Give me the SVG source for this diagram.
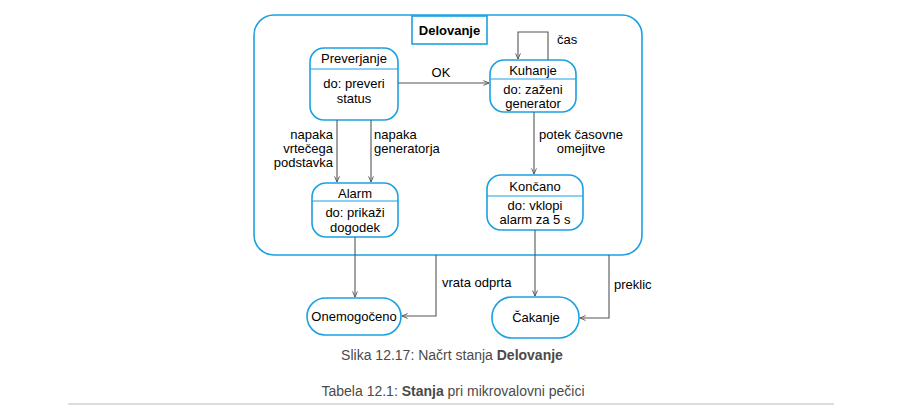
<svg xmlns="http://www.w3.org/2000/svg" width="900" height="405" viewBox="0 0 900 405">
<defs>
<marker id="arr" viewBox="0 0 10 10" refX="9" refY="5" markerWidth="7" markerHeight="7" orient="auto" markerUnits="userSpaceOnUse">
<path d="M1,1.5 L9,5 L1,8.5" fill="none" stroke="#555" stroke-width="1.3"/>
</marker>
<style>
.st{fill:#fff;stroke:#1ba1e2;stroke-width:1.6}
.sep{stroke:#1ba1e2;stroke-width:1}
.t{font-family:"Liberation Sans",Arial,sans-serif;font-size:13px;fill:#000}
.m{text-anchor:middle}
.e{text-anchor:end}
.c{fill:none;stroke:#555;stroke-width:1.1}
.cap{font-family:"Liberation Sans",Arial,sans-serif;font-size:14px;fill:#4a4a4a;text-anchor:middle}
</style>
</defs>
<rect width="900" height="405" fill="#fff"/>
<g id="delovanje">
<rect class="st" x="254" y="15" width="388" height="240" rx="20"/>
<rect class="st" x="412" y="16" width="75" height="28" rx="0"/>
<text class="t m" x="449.5" y="35" font-weight="bold">Delovanje</text>
</g>
<g id="preverjanje">
<rect class="st" x="310" y="48" width="88" height="72" rx="14"/>
<line class="sep" x1="310" y1="69" x2="398" y2="69"/>
<text class="t m" x="354" y="63">Preverjanje</text>
<text class="t m" x="354" y="88">do: preveri</text>
<text class="t m" x="354" y="103">status</text>
</g>
<g id="kuhanje">
<rect class="st" x="490" y="60" width="86" height="52" rx="14"/>
<line class="sep" x1="490" y1="79" x2="576" y2="79"/>
<text class="t m" x="533" y="75">Kuhanje</text>
<text class="t m" x="533" y="94">do: zaženi</text>
<text class="t m" x="533" y="108">generator</text>
</g>
<g id="alarm">
<rect class="st" x="312" y="183" width="86" height="54" rx="14"/>
<line class="sep" x1="312" y1="201" x2="398" y2="201"/>
<text class="t m" x="355" y="198">Alarm</text>
<text class="t m" x="355" y="217">do: prikaži</text>
<text class="t m" x="355" y="232">dogodek</text>
</g>
<g id="koncano">
<rect class="st" x="487" y="175" width="96" height="55" rx="14"/>
<line class="sep" x1="487" y1="196" x2="583" y2="196"/>
<text class="t m" x="535" y="191">Končano</text>
<text class="t m" x="535" y="210">do: vklopi</text>
<text class="t m" x="535" y="224">alarm za 5 s</text>
</g>
<g id="onemogoceno">
<rect class="st" x="307" y="298" width="94" height="37" rx="18.5"/>
<text class="t m" x="354" y="321">Onemogočeno</text>
</g>
<g id="cakanje">
<rect class="st" x="492" y="297" width="87" height="41" rx="20"/>
<text class="t m" x="536" y="322">Čakanje</text>
</g>
<g id="connectors">
<path class="c" d="M398,83 H489" marker-end="url(#arr)"/>
<path class="c" d="M548,60 V32 H518 V59" marker-end="url(#arr)"/>
<path class="c" d="M337,120 V182" marker-end="url(#arr)"/>
<path class="c" d="M371,120 V182" marker-end="url(#arr)"/>
<path class="c" d="M534,112 V174" marker-end="url(#arr)"/>
<path class="c" d="M355,237 V297" marker-end="url(#arr)"/>
<path class="c" d="M436,255 V316 H402" marker-end="url(#arr)"/>
<path class="c" d="M535,230 V296" marker-end="url(#arr)"/>
<path class="c" d="M609,255 V318 H580" marker-end="url(#arr)"/>
<text class="t m" x="441" y="77">OK</text>
<text class="t" x="557" y="44">čas</text>
<text class="t e" x="333" y="139">napaka</text>
<text class="t e" x="333" y="153">vrtečega</text>
<text class="t e" x="333" y="167">podstavka</text>
<text class="t" x="374" y="139">napaka</text>
<text class="t" x="374" y="153">generatorja</text>
<text class="t m" x="581" y="139">potek časovne</text>
<text class="t m" x="581" y="153">omejitve</text>
<text class="t" x="442" y="287">vrata odprta</text>
<text class="t" x="614" y="289">preklic</text>
</g>
<text class="cap" x="452" y="360">Slika 12.17: Načrt stanja <tspan font-weight="bold">Delovanje</tspan></text>
<text class="cap" x="453" y="396">Tabela 12.1: <tspan font-weight="bold">Stanja</tspan> pri mikrovalovni pečici</text>
<line x1="68" y1="404" x2="834" y2="404" stroke="#ddd" stroke-width="2"/>
</svg>
